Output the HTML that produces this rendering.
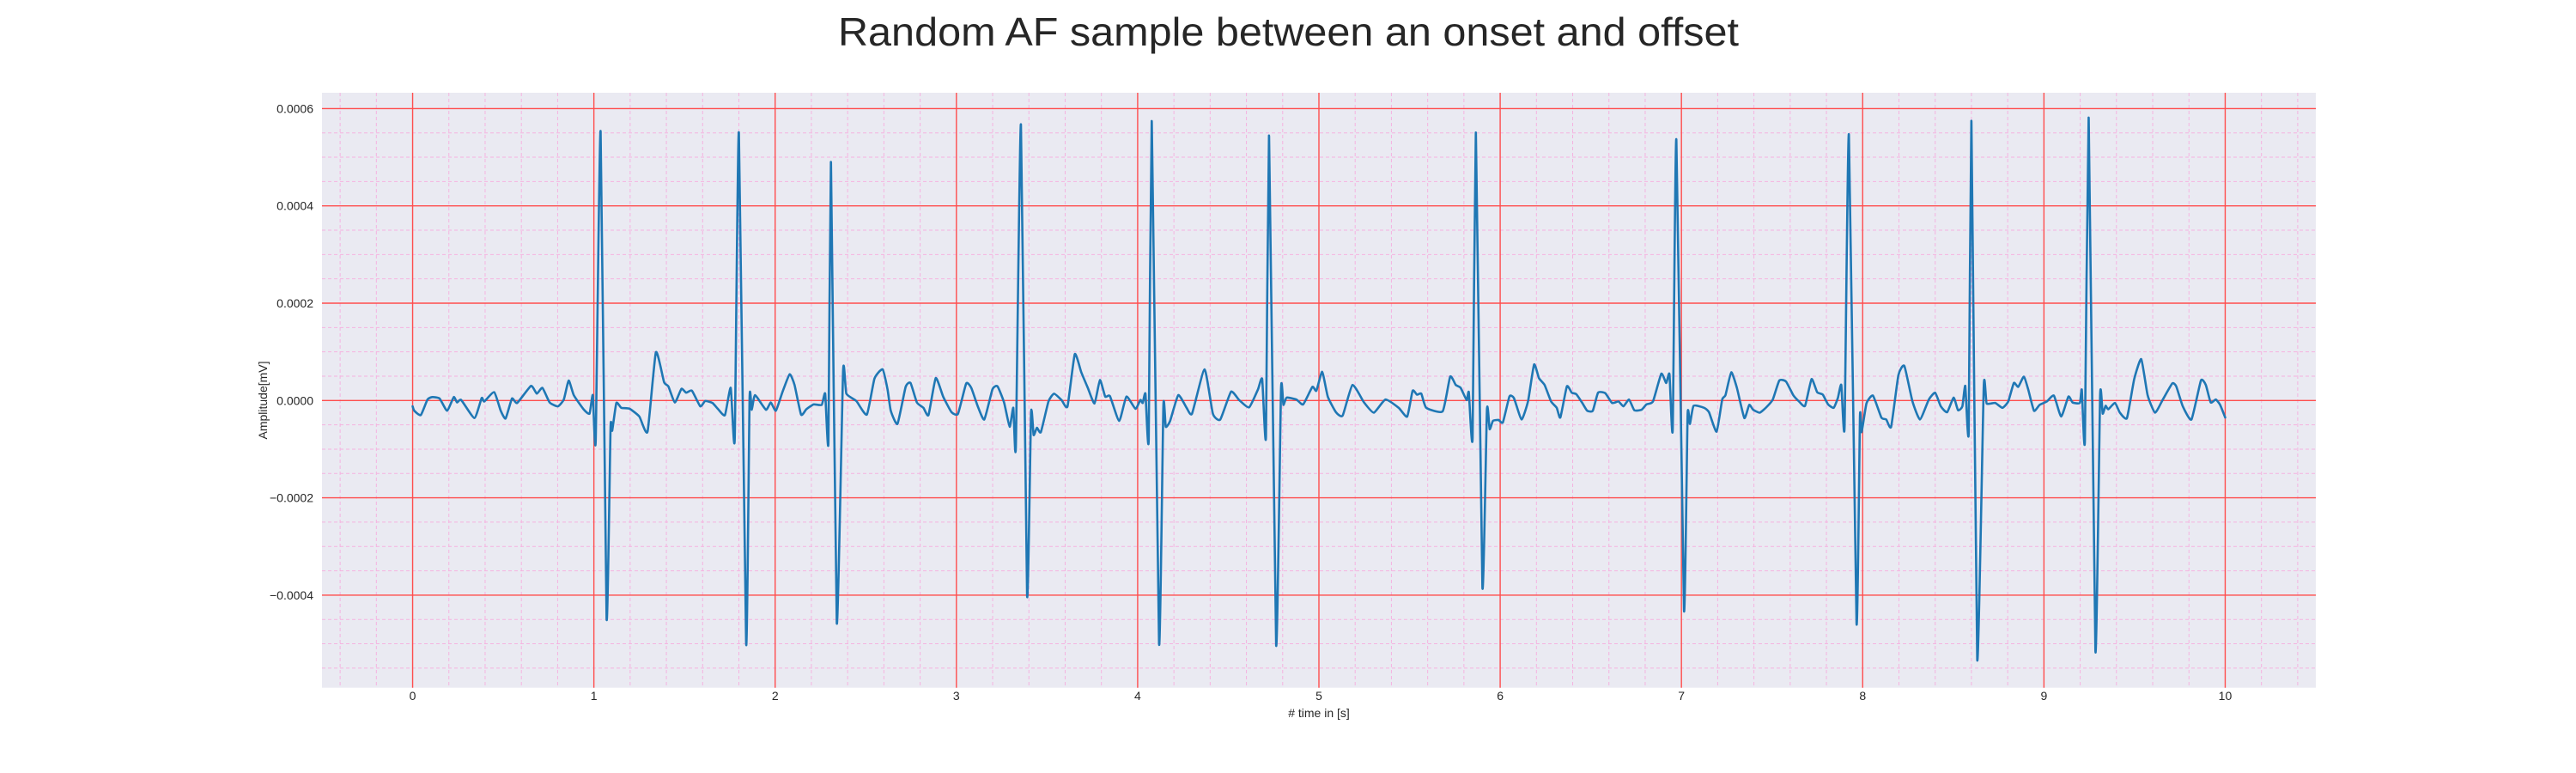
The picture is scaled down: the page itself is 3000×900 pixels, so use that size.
<!DOCTYPE html>
<html>
<head>
<meta charset="utf-8">
<style>
  html,body{margin:0;padding:0;background:#fff;}
  svg{display:block;font-family:"Liberation Sans",Arial,sans-serif;}
</style>
</head>
<body>
<svg id="chart" xmlns="http://www.w3.org/2000/svg" width="3000" height="900" viewBox="0 0 3000 900">
  <text x="1500.5" y="53" text-anchor="middle" font-size="46" fill="#262626" textLength="1049" lengthAdjust="spacingAndGlyphs">Random AF sample between an onset and offset</text>
  <rect x="375" y="108" width="2322" height="692.7" fill="#eaeaf2"/>
  <g id="minor-grid"></g>
  <g id="major-grid"></g>
  <g id="series"></g>
  <g id="x-ticks"></g>
  <g id="y-ticks"></g>
  <text x="1536" y="835" text-anchor="middle" font-size="14" fill="#262626"># time in [s]</text>
  <text x="0" y="0" transform="translate(311,466) rotate(-90)" text-anchor="middle" font-size="14" fill="#262626">Amplitude[mV]</text>
</svg>
<script>
// ---- data ----
const AMP_UNIT = 1e-5; // amplitudes stored in units of 1e-5 mV
const times = [0,0.009,0.045,0.082,0.109,0.149,0.19,0.227,0.245,0.268,0.341,0.381,0.395,0.45,0.486,0.513,0.548,0.577,0.653,0.685,0.716,0.756,0.801,0.834,0.861,0.889,0.943,0.976,0.994,1.01,1.037,1.07,1.092,1.101,1.124,1.151,1.197,1.251,1.296,1.342,1.387,1.411,1.447,1.483,1.509,1.541,1.587,1.614,1.654,1.686,1.723,1.755,1.777,1.80,1.84,1.859,1.871,1.889,1.949,1.976,2.004,2.04,2.08,2.107,2.143,2.172,2.212,2.257,2.276,2.294,2.308,2.34,2.375,2.393,2.448,2.506,2.548,2.593,2.62,2.638,2.675,2.72,2.747,2.782,2.818,2.846,2.886,2.927,2.973,3.009,3.054,3.082,3.118,3.154,3.199,3.227,3.263,3.294,3.314,3.328,3.356,3.39,3.412,3.426,3.444,3.466,3.508,3.539,3.58,3.613,3.653,3.689,3.725,3.762,3.792,3.821,3.847,3.898,3.938,3.988,4.015,4.028,4.043,4.061,4.078,4.118,4.142,4.155,4.179,4.224,4.27,4.3,4.369,4.415,4.456,4.515,4.56,4.615,4.664,4.687,4.708,4.725,4.764,4.791,4.804,4.822,4.876,4.913,4.964,4.986,5.018,5.049,5.094,5.131,5.185,5.249,5.303,5.367,5.44,5.487,5.517,5.541,5.565,5.592,5.683,5.724,5.755,5.782,5.815,5.827,5.848,5.866,5.902,5.927,5.942,5.96,5.991,6.015,6.051,6.076,6.118,6.154,6.187,6.214,6.245,6.281,6.312,6.332,6.368,6.395,6.42,6.453,6.48,6.511,6.54,6.58,6.617,6.653,6.68,6.711,6.74,6.78,6.807,6.843,6.889,6.916,6.934,6.952,6.972,7.014,7.034,7.047,7.067,7.125,7.152,7.194,7.225,7.243,7.275,7.306,7.347,7.374,7.396,7.432,7.468,7.504,7.54,7.577,7.617,7.649,7.682,7.718,7.749,7.78,7.809,7.84,7.863,7.882,7.9,7.924,7.966,7.985,7.994,8.021,8.057,8.103,8.13,8.157,8.197,8.23,8.274,8.316,8.365,8.4,8.431,8.466,8.502,8.526,8.55,8.566,8.585,8.6,8.632,8.668,8.684,8.731,8.771,8.803,8.834,8.858,8.889,8.913,8.945,8.976,9.016,9.055,9.095,9.135,9.158,9.198,9.209,9.226,9.247,9.284,9.31,9.324,9.34,9.355,9.392,9.419,9.458,9.498,9.537,9.572,9.613,9.656,9.708,9.73,9.766,9.814,9.866,9.893,9.92,9.948,9.972,10.0];
const amps = [-1.2,-2.1,-3.0,0.2,0.7,0.4,-2.1,0.7,-0.4,0.1,-3.6,0.5,-0.2,1.7,-2.1,-3.7,0.4,-0.5,3.0,1.4,2.6,-0.4,-1.2,0.2,4.1,1.1,-1.8,-2.7,1.1,-8.3,55.3,-44.7,-5.6,-6.2,-0.5,-1.5,-1.7,-3.3,-6.4,9.9,3.8,2.9,-0.4,2.4,1.6,2.0,-1.2,-0.1,-0.5,-1.8,-3.0,2.6,-8.0,55,-50,0.5,-1.9,1.1,-1.9,-0.4,-2.1,1.7,5.4,3.2,-2.9,-1.8,-0.8,-0.9,1.4,-8.6,48.9,-45.7,6.1,1.4,-0.1,-2.9,4.5,6.4,2.3,-2.1,-4.8,2.8,3.6,-0.4,-1.5,-3.0,4.6,0.8,-2.4,-2.7,3.5,2.6,-1.2,-3.9,2.3,2.9,-0.4,-5.4,-1.5,-9.5,56.7,-40,-2.5,-7.1,-5.6,-6.5,-0.2,1.4,0.1,-1.2,9.5,5.8,2.6,-0.6,4.2,0.8,0.9,-4.2,0.8,-1.7,0.1,-0.5,1.4,-8.0,57.3,-49.9,-1.1,-5.4,-4.2,1.1,-1.5,-2.7,6.4,-2.7,-3.9,1.8,0.1,-1.4,2.3,4.4,-7.4,54.3,-50.2,2.3,-0.9,0.6,0.2,-0.8,2.8,2.0,5.9,0.8,-2.4,-3.1,3.2,-0.4,-2.5,0.2,-1.5,-3.3,2.0,1.2,1.4,-1.5,-2.2,4.9,3.2,2.6,0.1,1.7,-7.6,55,-38.3,-1.9,-5.9,-4.2,-4.0,-4.5,0.8,0.5,-3.9,-0.1,7.4,4.6,3.2,-0.2,-1.5,-3.5,2.9,1.6,1.3,-0.5,-2.1,-2.1,1.6,1.5,-0.5,-0.2,-1.2,0.2,-2.0,-1.9,-0.8,-0.2,5.5,3.6,5.4,-5.9,53.6,-43,-3.0,-4.8,-1.1,-1.5,-2.4,-6.4,0.2,1.1,5.8,2.6,-3.6,-0.9,-1.9,-2.5,-1.4,0.2,4.1,3.9,1.1,-0.2,-1.1,4.4,1.7,1.2,-0.8,-1.5,0.5,3.2,-5.5,54.6,-45.7,-3.3,-6.5,-0.6,1.0,-3.5,-3.9,-5.4,5.2,7.1,-0.1,-3.9,0.2,1.6,-1.2,-2.4,0.6,-2.0,-1.2,3.0,-6.5,57.3,-53.2,2.9,-0.6,-0.5,-1.5,-0.2,3.6,2.8,4.9,2.3,-2.1,-0.9,-0.2,1.0,-3.3,0.8,-0.4,-0.5,2.2,-8.2,58,-51.5,1.1,-2.7,-1.1,-1.8,-0.5,-2.5,-3.6,4.4,8.5,1.1,-2.5,0.2,3.5,2.9,-1.2,-3.9,4.1,3.2,-0.4,0.2,-0.9,-3.5];
const xTickValues = [0,1,2,3,4,5,6,7,8,9,10];
const xTickLabels = ["0","1","2","3","4","5","6","7","8","9","10"];
const yTickValues = [-0.0004,-0.0002,0,0.0002,0.0004,0.0006];
const yTickLabels = ["\u22120.0004","\u22120.0002","0.0000","0.0002","0.0004","0.0006"];

// ---- axes ----
const PL = 375, PR = 2697, PT = 108, PB = 800.7;
const XMIN = -0.5, XMAX = 10.5, YMIN = -0.0005903, YMAX = 0.0006325;
function xs(t){ return PL + (t - XMIN) / (XMAX - XMIN) * (PR - PL); }
function ys(v){ return PB - (v - YMIN) / (YMAX - YMIN) * (PB - PT); }
const NS = "http://www.w3.org/2000/svg";
function mk(tag, attrs){ const e = document.createElementNS(NS, tag); for (const k in attrs) e.setAttribute(k, attrs[k]); return e; }

// minor grid
const minor = document.getElementById('minor-grid');
for (let i = -2; i <= 52; i++) {
  const t = i * 0.2;
  if (t < XMIN || t > XMAX || i % 5 === 0) continue;
  const l = mk('line', {x1: xs(t), x2: xs(t), y1: PT, y2: PB, stroke: '#f5b3e0', 'stroke-width': 1, 'stroke-dasharray': '4,3'});
  
  
  minor.appendChild(l);
}
for (let i = -12; i <= 13; i++) {
  const v = i * 0.00005;
  if (v < YMIN || v > YMAX || i % 4 === 0) continue;
  const l = mk('line', {x1: PL, x2: PR, y1: ys(v), y2: ys(v), stroke: '#f5b3e0', 'stroke-width': 1, 'stroke-dasharray': '4,3'});
  
  
  minor.appendChild(l);
}
// major grid + ticks
const major = document.getElementById('major-grid');
const xt = document.getElementById('x-ticks');
const yt = document.getElementById('y-ticks');
xTickValues.forEach((t, i) => {
  const l = mk('line', {x1: xs(t), x2: xs(t), y1: PT, y2: PB, stroke: '#ff4d4d', 'stroke-width': 1.4});
  
  
  major.appendChild(l);
  const tx = mk('text', {x: xs(t), y: 815, 'text-anchor': 'middle', 'font-size': 14, fill: '#262626'});
  tx.textContent = xTickLabels[i];
  
  
  xt.appendChild(tx);
});
yTickValues.forEach((v, i) => {
  const l = mk('line', {x1: PL, x2: PR, y1: ys(v), y2: ys(v), stroke: '#ff4d4d', 'stroke-width': 1.4});
  
  
  major.appendChild(l);
  const tx = mk('text', {x: 365, y: ys(v) + 5, 'text-anchor': 'end', 'font-size': 14, fill: '#262626'});
  tx.textContent = yTickLabels[i];
  
  
  yt.appendChild(tx);
});
// series (mildly smoothed Catmull-Rom through data points)
const P = times.map((t, i) => [xs(t), ys(amps[i] * AMP_UNIT)]);
const k = 0.5 / 6;
let d = 'M' + P[0][0].toFixed(2) + ',' + P[0][1].toFixed(2);
for (let i = 0; i < P.length - 1; i++) {
  const p0 = P[Math.max(0, i - 1)], p1 = P[i], p2 = P[i + 1], p3 = P[Math.min(P.length - 1, i + 2)];
  const c1 = [p1[0] + (p2[0] - p0[0]) * k, p1[1] + (p2[1] - p0[1]) * k];
  const c2 = [p2[0] - (p3[0] - p1[0]) * k, p2[1] - (p3[1] - p1[1]) * k];
  d += ' C' + c1[0].toFixed(2) + ',' + c1[1].toFixed(2) + ' ' + c2[0].toFixed(2) + ',' + c2[1].toFixed(2) + ' ' + p2[0].toFixed(2) + ',' + p2[1].toFixed(2);
}
const line = mk('path', {d: d, fill: 'none', stroke: '#1f77b4', 'stroke-width': 2.6, 'stroke-linejoin': 'round', 'stroke-linecap': 'round'});


document.getElementById('series').appendChild(line);
</script>
</body>
</html>
